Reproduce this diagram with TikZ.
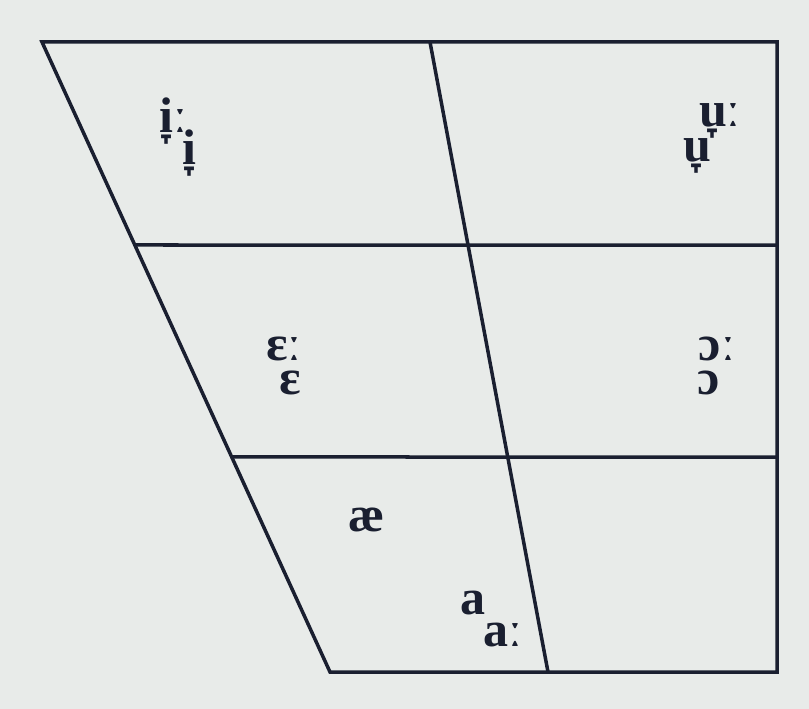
\documentclass[tikz,border=0pt]{standalone}
\usepackage{fontspec}
\setmainfont{Liberation Serif}
\usepackage{xcolor}
\usetikzlibrary{calc}
\definecolor{chartline}{HTML}{1A1F30}
\definecolor{paper}{HTML}{E8EBE9}
\tikzset{vowel/.style={inner sep=0pt,chartline,font=\fontsize{50}{50}\selectfont\bfseries}}

\begin{document}
\begin{tikzpicture}[x=1pt,y=-1pt]
\fill[paper] (0,0) rectangle (809,709);
\useasboundingbox (0,0) rectangle (809,709);
\coordinate (tl) at (42,42);
\coordinate (tr) at (777,42);
\coordinate (br) at (777,672);
\coordinate (bl) at (330,672);
\coordinate (tm) at (430,42);
\coordinate (bm) at (548,672);
\draw[chartline,line width=3.5pt,line join=miter] (tl)--(tr)--(br)--(bl)--cycle;
\draw[chartline,line width=3.5pt] (tm)--(bm);
\draw[chartline,line width=3.5pt] ($(tl)!203/630!(bl)$) coordinate (ml)--(777,245) coordinate (mr);
\draw[chartline,line width=3.5pt] ($(tl)!415/630!(bl)$) coordinate (ll)--(777,457) coordinate (lr);
\node[vowel] (iL) at (173,121) {i̞ː};
\node[vowel] (i) at (189,153) {i̞};
\node[vowel] (u) at (697,156) {u̞};
\node[vowel] (uL) at (720,121) {u̞ː};
\node[vowel] (eL) at (284,349) {ɛː};
\node[vowel] (e) at (290,383) {ɛ};
\node[vowel] (oL) at (717,349) {ɔː};
\node[vowel] (o) at (709,383) {ɔ};
\node[vowel] (ae) at (367,520) {æ};
\node[vowel] (a) at (473,603) {a};
\node[vowel] (aL) at (503,635) {aː};
\end{tikzpicture}
\end{document}
